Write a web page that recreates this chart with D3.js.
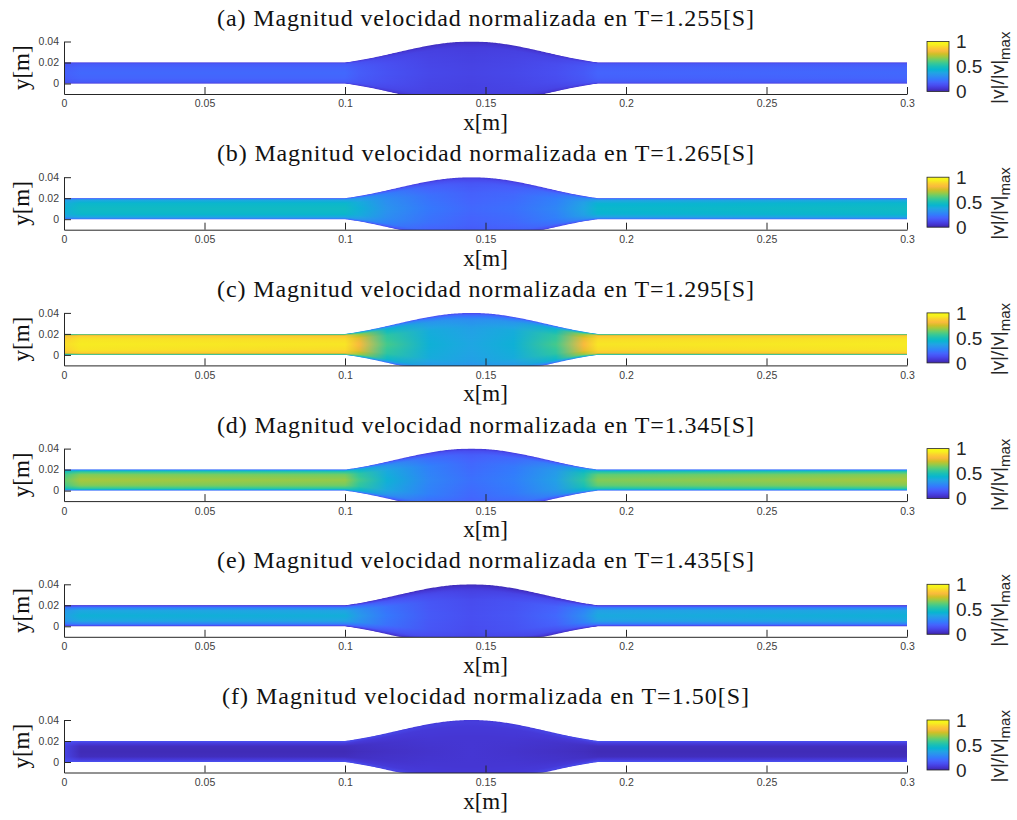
<!DOCTYPE html>
<html>
<head>
<meta charset="utf-8">
<script src="https://cdn.jsdelivr.net/npm/d3@7"></script>
<style>
body { margin: 0; background: #fff; }
</style>
</head>
<body>
<div id="chart"></div>
<script>
// panel titles
const titles = [
    "(a) Magnitud velocidad normalizada en T=1.255[S]",
    "(b) Magnitud velocidad normalizada en T=1.265[S]",
    "(c) Magnitud velocidad normalizada en T=1.295[S]",
    "(d) Magnitud velocidad normalizada en T=1.345[S]",
    "(e) Magnitud velocidad normalizada en T=1.435[S]",
    "(f) Magnitud velocidad normalizada en T=1.50[S]",
]

const xTicks = [0, 0.05, 0.1, 0.15, 0.2, 0.25, 0.3]
const yTicks = [0, 0.02, 0.04]
const cbTicks = [0, 0.5, 1]

// geometry of the vessel [m]
const tubeCenter = 0.01
const tubeRadius = 0.01
const bulgeStart = 0.1
const bulgeEnd = 0.19
const bulgeExtra = 0.02

// stations where the field was read (x in m, r as fraction of local radius)
const xStations = [0, 0.006, 0.1, 0.105, 0.115, 0.13, 0.145, 0.16, 0.175, 0.185, 0.19, 0.3]
const rFrac = [0, 0.5, 0.8, 0.93, 1]

// |v|/|v|max, one row per rFrac, one column per xStation
const fieldA = [
    [0.18, 0.20, 0.20, 0.17, 0.14, 0.11, 0.10, 0.11, 0.13, 0.16, 0.19, 0.20],
    [0.17, 0.19, 0.19, 0.16, 0.13, 0.10, 0.09, 0.10, 0.12, 0.15, 0.18, 0.19],
    [0.15, 0.17, 0.17, 0.14, 0.11, 0.09, 0.08, 0.09, 0.10, 0.13, 0.16, 0.17],
    [0.12, 0.13, 0.13, 0.10, 0.08, 0.06, 0.05, 0.06, 0.07, 0.09, 0.12, 0.13],
    [0.05, 0.05, 0.05, 0.05, 0.04, 0.03, 0.03, 0.03, 0.04, 0.05, 0.05, 0.05],
]
const fieldB = [
    [0.42, 0.47, 0.47, 0.42, 0.32, 0.24, 0.20, 0.22, 0.28, 0.38, 0.45, 0.47],
    [0.40, 0.45, 0.45, 0.40, 0.30, 0.22, 0.18, 0.20, 0.26, 0.36, 0.43, 0.45],
    [0.35, 0.38, 0.38, 0.34, 0.26, 0.18, 0.15, 0.17, 0.22, 0.30, 0.36, 0.38],
    [0.25, 0.27, 0.27, 0.24, 0.19, 0.13, 0.11, 0.12, 0.16, 0.22, 0.26, 0.27],
    [0.12, 0.12, 0.12, 0.11, 0.09, 0.07, 0.06, 0.07, 0.08, 0.10, 0.12, 0.12],
]
const fieldC = [
    [0.90, 0.93, 0.92, 0.82, 0.58, 0.42, 0.38, 0.42, 0.58, 0.82, 0.92, 0.93],
    [0.88, 0.92, 0.90, 0.78, 0.54, 0.40, 0.36, 0.40, 0.54, 0.78, 0.90, 0.92],
    [0.82, 0.88, 0.85, 0.68, 0.46, 0.33, 0.30, 0.33, 0.46, 0.68, 0.85, 0.88],
    [0.60, 0.70, 0.65, 0.50, 0.34, 0.24, 0.20, 0.24, 0.34, 0.50, 0.65, 0.70],
    [0.30, 0.30, 0.30, 0.24, 0.16, 0.12, 0.10, 0.12, 0.16, 0.24, 0.30, 0.30],
]
const fieldD = [
    [0.62, 0.70, 0.68, 0.58, 0.42, 0.28, 0.22, 0.26, 0.36, 0.54, 0.66, 0.70],
    [0.58, 0.66, 0.64, 0.54, 0.39, 0.26, 0.20, 0.24, 0.34, 0.50, 0.62, 0.66],
    [0.50, 0.55, 0.54, 0.45, 0.32, 0.21, 0.17, 0.20, 0.28, 0.42, 0.52, 0.55],
    [0.35, 0.38, 0.37, 0.31, 0.22, 0.15, 0.12, 0.14, 0.19, 0.29, 0.36, 0.38],
    [0.15, 0.15, 0.15, 0.13, 0.10, 0.07, 0.06, 0.07, 0.09, 0.12, 0.15, 0.15],
]
const fieldE = [
    [0.36, 0.42, 0.41, 0.34, 0.24, 0.16, 0.13, 0.15, 0.20, 0.30, 0.39, 0.42],
    [0.33, 0.38, 0.37, 0.31, 0.22, 0.15, 0.12, 0.14, 0.18, 0.27, 0.36, 0.38],
    [0.22, 0.25, 0.25, 0.21, 0.15, 0.11, 0.09, 0.10, 0.13, 0.19, 0.24, 0.25],
    [0.10, 0.12, 0.12, 0.10, 0.08, 0.06, 0.05, 0.05, 0.07, 0.09, 0.11, 0.12],
    [0.03, 0.03, 0.03, 0.03, 0.03, 0.02, 0.02, 0.02, 0.03, 0.03, 0.03, 0.03],
]
const fieldF = [
    [0.10, 0.02, 0.02, 0.03, 0.04, 0.05, 0.06, 0.05, 0.04, 0.03, 0.02, 0.02],
    [0.10, 0.03, 0.03, 0.04, 0.05, 0.06, 0.06, 0.06, 0.05, 0.04, 0.03, 0.03],
    [0.12, 0.08, 0.08, 0.07, 0.07, 0.07, 0.07, 0.07, 0.07, 0.07, 0.08, 0.08],
    [0.14, 0.13, 0.13, 0.11, 0.10, 0.09, 0.08, 0.09, 0.10, 0.11, 0.13, 0.13],
    [0.10, 0.10, 0.10, 0.09, 0.08, 0.07, 0.07, 0.07, 0.08, 0.09, 0.10, 0.10],
]
const fields = [fieldA, fieldB, fieldC, fieldD, fieldE, fieldF]

// parula colormap
const parula = [
    "#3e26a8", "#4537d5", "#484df0", "#4563fd", "#327cfc", "#2b91ef",
    "#20a5e3", "#08b5d0", "#19bfb6", "#37c897", "#64cd6f", "#9dc943",
    "#d1bf27", "#f8ba3d", "#fccf30", "#f6ef20", "#f9fb15",
]

var width = 1017, height = 820
var axLeft = 64, axRight = 907
var firstTop = 41.5, panelStep = 135.7, axHeight = 52.5
var cbLeft = 927, cbWidth = 22, cbHeight = 50
var nLayers = 40

var color = d3.scaleLinear()
    .domain(parula.map((c, i) => i / (parula.length - 1)))
    .range(parula)
    .interpolate(d3.interpolateRgb)
    .clamp(true)

// local radius of the vessel
function radius(x) {
    if (x <= bulgeStart || x >= bulgeEnd) return tubeRadius
    var s = Math.sin(Math.PI * (x - bulgeStart) / (bulgeEnd - bulgeStart))
    return tubeRadius + bulgeExtra * 0.5 * (s + s * s)
}

var xs = d3.scaleLinear().domain([0, 0.3]).range([axLeft, axRight])
var samples = d3.range(0, 601).map(i => i * 0.0005)

var svg = d3.select("#chart").append("svg")
    .attr("width", width)
    .attr("height", height)
    .style("font-family", "'Liberation Sans', Arial, sans-serif")

var defs = svg.append("defs")

// colorbar gradient
var cbGrad = defs.append("linearGradient")
    .attr("id", "cbgrad")
    .attr("x1", 0).attr("y1", 1).attr("x2", 0).attr("y2", 0)
cbGrad.selectAll("stop")
    .data(parula)
    .enter().append("stop")
    .attr("offset", (d, i) => i / (parula.length - 1))
    .attr("stop-color", d => d)

fields.forEach(function(field, p) {
    var top = firstTop + p * panelStep
    var bottom = top + axHeight
    var ys = d3.scaleLinear().domain([-0.01, 0.04]).range([bottom, top])

    var g = svg.append("g").attr("class", "panel")

    defs.append("clipPath").attr("id", "clip" + p)
        .append("rect")
        .attr("x", axLeft).attr("y", top)
        .attr("width", axRight - axLeft).attr("height", axHeight)

    // title
    g.append("text")
        .attr("x", (axLeft + axRight) / 2)
        .attr("y", top - 16)
        .attr("text-anchor", "middle")
        .style("font-family", "'Liberation Serif', 'Times New Roman', serif")
        .style("font-size", "24px")
        .attr("textLength", p == 5 ? 527 : 537)
        .attr("lengthAdjust", "spacing")
        .attr("fill", "#111")
        .text(titles[p])

    // velocity field, drawn from the wall inwards
    var layers = d3.range(nLayers, 0, -1).map(k => k / nLayers)
    var field_g = g.append("g").attr("clip-path", "url(#clip" + p + ")")

    layers.forEach(function(f, k) {
        var rr = Math.max(0, f - 0.5 / nLayers)
        var vals = xStations.map(function(xv, j) {
            return d3.scaleLinear().domain(rFrac).range(field.map(row => row[j]))(rr)
        })
        var gid = "f" + p + "_" + k
        var grad = defs.append("linearGradient")
            .attr("id", gid)
            .attr("gradientUnits", "userSpaceOnUse")
            .attr("x1", xs(0)).attr("x2", xs(0.3))
            .attr("y1", 0).attr("y2", 0)
        grad.selectAll("stop")
            .data(vals)
            .enter().append("stop")
            .attr("offset", (d, j) => xStations[j] / 0.3)
            .attr("stop-color", d => color(d))

        var area = d3.area()
            .x(d => xs(d))
            .y0(d => ys(tubeCenter - f * radius(d)))
            .y1(d => ys(tubeCenter + f * radius(d)))

        field_g.append("path")
            .datum(samples)
            .attr("d", area)
            .attr("fill", "url(#" + gid + ")")
    })

    // axes
    var xAxis = d3.axisBottom(xs)
        .tickValues(xTicks)
        .tickFormat(d3.format("~g"))
        .tickSizeInner(-7)
        .tickSizeOuter(0)
        .tickPadding(6)
    var yAxis = d3.axisLeft(ys)
        .tickValues(yTicks)
        .tickFormat(d3.format("~g"))
        .tickSizeInner(-7)
        .tickSizeOuter(0)
        .tickPadding(5)

    var gx = g.append("g")
        .attr("transform", "translate(0," + bottom + ")")
        .call(xAxis)
    var gy = g.append("g")
        .attr("transform", "translate(" + axLeft + ",0)")
        .call(yAxis)

    ;[gx, gy].forEach(function(ax) {
        ax.selectAll("path, line").attr("stroke", "#262626").attr("stroke-width", 1)
        ax.selectAll("text")
            .attr("fill", "#404040")
            .style("font-family", "'Liberation Sans', Arial, sans-serif")
            .style("font-size", "10.5px")
    })

    // axis labels
    g.append("text")
        .attr("x", (axLeft + axRight) / 2)
        .attr("y", bottom + 36)
        .attr("text-anchor", "middle")
        .style("font-family", "'Liberation Serif', 'Times New Roman', serif")
        .style("font-size", "23px")
        .attr("fill", "#111")
        .text("x[m]")

    g.append("text")
        .attr("transform", "translate(29," + (top + axHeight / 2) + ") rotate(-90)")
        .attr("text-anchor", "middle")
        .style("font-family", "'Liberation Serif', 'Times New Roman', serif")
        .style("font-size", "23px")
        .attr("fill", "#111")
        .text("y[m]")

    // colorbar
    var cs = d3.scaleLinear().domain([0, 1]).range([top + cbHeight, top])
    g.append("rect")
        .attr("x", cbLeft).attr("y", top)
        .attr("width", cbWidth).attr("height", cbHeight)
        .attr("fill", "url(#cbgrad)")
        .attr("stroke", "#262626")
        .attr("stroke-width", 0.8)

    g.selectAll(".cbtick")
        .data(cbTicks)
        .enter().append("text")
        .attr("class", "cbtick")
        .attr("x", cbLeft + cbWidth + 7)
        .attr("y", d => cs(d))
        .attr("dy", "0.36em")
        .style("font-size", "19px")
        .attr("fill", "#262626")
        .text(d => d3.format("~g")(d))

    var lab = g.append("text")
        .attr("transform", "translate(1004," + (top + axHeight / 2) + ") rotate(-90)")
        .attr("text-anchor", "middle")
        .style("font-size", "19px")
        .attr("fill", "#262626")
    lab.append("tspan").text("|v|/|v|")
    lab.append("tspan").attr("dy", 6).style("font-size", "15px").text("max")
})
</script>
</body>
</html>
